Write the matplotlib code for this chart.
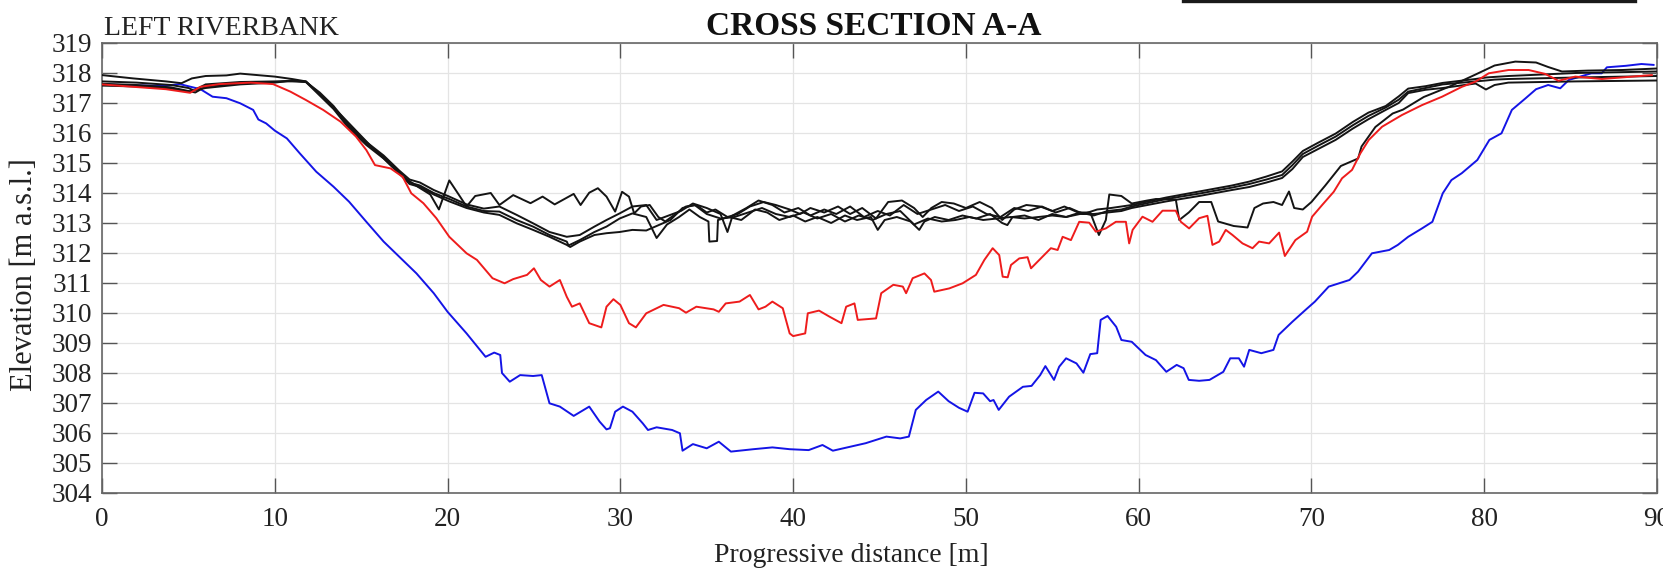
import matplotlib
matplotlib.use('Agg')
import matplotlib.pyplot as plt
from matplotlib.lines import Line2D

# ---------------- data (progressive distance [m], elevation [m a.s.l.]) ----------------
blue_d = [0, 1.8, 3.7, 4.5, 5.7, 6.4, 7.2, 8.0, 8.75, 9.05, 9.5, 10.0, 10.7, 11.45, 12.4, 13.4, 14.3, 15.3, 16.3, 17.2,
          18.2, 19.2, 20.0, 21.1, 22.2, 22.7, 23.05, 23.15, 23.6, 24.2, 24.95, 25.45, 25.9, 26.5, 27.3, 28.2, 28.8, 29.2,
          29.4, 29.7, 30.15, 30.7, 31.3, 31.6, 32.1, 33.0, 33.45, 33.6, 34.2, 35.0, 35.7, 36.4, 37.7, 38.8, 39.8, 40.9,
          41.7, 42.3, 43.3, 44.2, 45.4, 46.2, 46.7, 47.1, 47.7, 48.4, 49.0, 49.6, 50.1, 50.5, 51.0, 51.4, 51.6, 51.9,
          52.5, 53.3, 53.8, 54.3, 54.6, 55.1, 55.4, 55.8, 56.4, 56.8, 57.2, 57.6, 57.8, 58.2, 58.7, 59.0, 59.6, 60.4,
          61.0, 61.6, 62.2, 62.6, 62.9, 63.5, 64.1, 64.9, 65.3, 65.8, 66.1, 66.4, 67.1, 67.8, 68.1, 68.9, 69.65, 70.2,
          71.0, 72.2, 72.7, 73.5, 74.5, 75.0, 75.6, 76.4, 77.0, 77.6, 78.1, 78.7, 79.6, 80.3, 81.0, 81.6, 82.4, 83.0,
          83.7, 84.4, 84.9, 86.2, 86.8, 87.1, 88.2, 89.1, 89.8]
blue_e = [317.62, 317.59, 317.57, 317.63, 317.46, 317.21, 317.16, 316.99, 316.77, 316.45, 316.32, 316.08, 315.82, 315.32,
          314.71, 314.21, 313.71, 313.04, 312.38, 311.88, 311.32, 310.66, 310.04, 309.32, 308.54, 308.68, 308.6, 308.0,
          307.71, 307.93, 307.9, 307.93, 306.99, 306.88, 306.57, 306.88, 306.38, 306.12, 306.16, 306.71, 306.88, 306.71,
          306.32, 306.1, 306.19, 306.1, 305.99, 305.41, 305.63, 305.49, 305.71, 305.38, 305.46, 305.52, 305.46, 305.43,
          305.6, 305.41, 305.54, 305.66, 305.88, 305.82, 305.88, 306.77, 307.1, 307.38, 307.06, 306.84, 306.71, 307.34,
          307.32, 307.06, 307.1, 306.77, 307.21, 307.54, 307.57, 307.93, 308.23, 307.77, 308.21, 308.49, 308.32, 308.01,
          308.63, 308.66, 309.77, 309.9, 309.54, 309.1, 309.04, 308.6, 308.43, 308.04, 308.27, 308.16, 307.77, 307.74,
          307.77, 308.04, 308.49, 308.49, 308.21, 308.77, 308.66, 308.77, 309.27, 309.71, 310.1, 310.38, 310.88, 311.1,
          311.38, 311.99, 312.1, 312.27, 312.54, 312.82, 313.04, 313.99, 314.43, 314.66, 315.1, 315.77, 315.99, 316.77,
          317.16, 317.46, 317.6, 317.49, 317.77, 317.99, 317.99, 318.19, 318.24, 318.3, 318.27]

red_d = [0, 1.8, 3.7, 5.1, 5.7, 6.8, 8.6, 9.9, 10.9, 11.8, 12.8, 13.8, 14.7, 15.3, 15.8, 16.7, 17.4, 17.9, 18.6, 19.35,
         20.1, 21.1, 21.7, 22.6, 23.3, 23.8, 24.6, 25.0, 25.4, 25.9, 26.5, 26.9, 27.2, 27.65, 28.2, 28.9, 29.2, 29.6,
         30.0, 30.5, 30.9, 31.5, 32.1, 32.5, 33.4, 33.8, 34.4, 35.4, 35.7, 36.1, 36.9, 37.5, 38.0, 38.4, 38.8, 39.4,
         39.8, 40.0, 40.7, 40.85, 41.5, 42.1, 42.8, 43.07, 43.55, 43.74, 44.8, 45.1, 45.8, 46.35, 46.54, 46.92, 47.6,
         47.98, 48.17, 49.04, 49.81, 50.58, 51.07, 51.55, 51.93, 52.13, 52.42, 52.61, 53.09, 53.57, 53.77, 54.25, 54.92,
         55.31, 55.6, 56.08, 56.56, 57.14, 57.52, 58.1, 58.68, 59.26, 59.45, 59.65, 60.22, 60.8, 61.38, 62.15, 62.44,
         62.92, 63.5, 63.98, 64.27, 64.66, 65.04, 65.43, 66.01, 66.59, 66.97, 67.55, 68.13, 68.46, 69.07, 69.75, 70.04,
         70.62, 71.29, 71.77, 72.35, 72.83, 73.32, 74.09, 75.24, 76.4, 77.56, 78.71, 79.49, 80.26, 81.41, 82.57, 83.53,
         84.3, 85.27, 86.81, 88.16, 89.7]
red_e = [317.62, 317.54, 317.46, 317.34, 317.54, 317.63, 317.68, 317.63, 317.38, 317.1, 316.77, 316.38, 315.88, 315.43,
         314.93, 314.82, 314.54, 313.99, 313.66, 313.16, 312.54, 311.99, 311.77, 311.16, 310.99, 311.13, 311.27, 311.49,
         311.1, 310.88, 311.1, 310.54, 310.21, 310.32, 309.66, 309.52, 310.21, 310.46, 310.27, 309.66, 309.52, 309.99,
         310.16, 310.27, 310.16, 310.01, 310.21, 310.12, 310.04, 310.32, 310.38, 310.6, 310.12, 310.21, 310.38, 310.16,
         309.32, 309.23, 309.32, 309.99, 310.08, 309.88, 309.66, 310.21, 310.32, 309.77, 309.82, 310.66, 310.94, 310.88,
         310.66, 311.16, 311.32, 311.1, 310.71, 310.82, 310.99, 311.27, 311.77, 312.16, 311.93, 311.21, 311.19, 311.6,
         311.82, 311.86, 311.49, 311.77, 312.16, 312.1, 312.54, 312.43, 313.04, 313.01, 312.71, 312.82, 313.04, 313.04,
         312.32, 312.77, 313.21, 313.04, 313.41, 313.41, 313.04, 312.82, 313.16, 313.24, 312.27, 312.38, 312.77, 312.6,
         312.32, 312.16, 312.38, 312.32, 312.68, 311.9, 312.43, 312.71, 313.21, 313.6, 314.04, 314.49, 314.77, 315.32,
         315.77, 316.21, 316.6, 316.93, 317.21, 317.54, 317.71, 317.99, 318.1, 318.1, 317.97, 317.74, 317.88, 317.8,
         317.86, 317.93]

black1_d = [0, 1.8, 3.7, 4.6, 5.2, 6.0, 7.2, 8.0, 9.0, 10.0, 11.0, 11.8, 12.6, 13.5, 14.5, 15.5, 16.5, 17.4, 18.3, 19.0,
            19.5, 20.1, 20.7, 21.1, 21.6, 22.5, 23.0, 23.8, 24.8, 25.5, 26.2, 27.3, 27.7, 28.2, 28.7, 29.2, 29.7, 30.1,
            30.5, 30.8, 31.2, 31.7, 32.2, 32.6, 33.2, 33.8, 34.4, 35.0, 35.5, 36.2, 36.8, 37.5, 38.3, 39.0, 39.8, 40.4,
            41.0, 41.8, 42.6, 43.3, 44.0, 44.8, 45.5, 46.3, 47.0, 47.5, 48.0, 48.6, 49.3, 50.0, 50.8, 51.5, 52.1, 52.8,
            53.5, 54.3, 55.0, 55.7, 56.5, 57.2, 57.7, 58.1, 58.3, 59.0, 59.6, 60.5, 61.0, 62.15, 62.35, 62.9, 63.5, 64.2,
            64.6, 65.5, 66.3, 66.7, 67.2, 67.8, 68.3, 68.7, 69.0, 69.5, 70.0, 70.8, 71.7, 72.7, 72.9, 73.7, 74.7, 75.3,
            76.5, 78.0, 79.5, 80.6, 81.8, 83.0, 83.7, 84.5, 86.0, 88.0, 90.0]
black1_e = [317.93, 317.82, 317.72, 317.66, 317.82, 317.9, 317.92, 317.98, 317.93, 317.88, 317.8, 317.72, 317.3, 316.8,
            316.2, 315.6, 315.05, 314.55, 314.2, 313.95, 313.45, 314.42, 313.9, 313.55, 313.9, 314.0, 313.6, 313.93,
            313.66, 313.88, 313.62, 313.97, 313.6, 314.01, 314.16, 313.88, 313.38, 314.04, 313.88, 313.32, 313.55, 313.6,
            313.2, 313.05, 313.3, 313.55, 313.6, 313.35, 313.45, 313.2, 313.3, 313.55, 313.7, 313.6, 313.45, 313.3, 313.5,
            313.35, 313.55, 313.3, 313.5, 313.15, 313.7, 313.75, 313.5, 313.2, 313.5, 313.7, 313.65, 313.5, 313.7, 313.5,
            313.1, 313.45, 313.6, 313.55, 313.4, 313.55, 313.35, 313.35, 312.6, 313.1, 313.95, 313.9, 313.65, 313.75,
            313.8, 313.78, 313.1, 313.35, 313.7, 313.7, 313.05, 312.9, 312.85, 313.5, 313.65, 313.7, 313.6, 314.05, 313.5,
            313.45, 313.7, 314.25, 314.9, 315.15, 315.55, 316.2, 316.65, 316.78, 317.2, 317.55, 317.95, 318.25, 318.38,
            318.35, 318.2, 318.05, 318.08, 318.1, 318.15]

black2_d = [0, 2, 4, 5, 5.3, 6, 8, 10, 11, 11.8, 12.6, 13.4, 14.3, 15.3, 16.3, 17.2, 17.8, 18.4, 19.2, 20.1, 21.1, 22.1,
            23.0, 24.0, 24.95, 25.9, 26.9, 27.65, 28.5, 29.2, 29.96, 30.7, 31.5, 32.1, 32.8, 33.5, 34.2, 35.0, 35.8, 36.2,
            36.5, 37.3, 38.0, 38.8, 39.5, 40.3, 41.0, 41.8, 42.5, 43.3, 44.1, 44.9, 45.6, 46.4, 47.2, 48.0, 48.8, 49.6,
            50.4, 51.2, 52.0, 52.8, 53.6, 54.4, 55.2, 56.0, 56.8, 57.6, 58.4, 59.0, 59.6, 61.6, 63.5, 65.4, 66.4, 67.4,
            68.3, 68.9, 69.5, 70.4, 71.4, 72.4, 73.3, 74.3, 75.05, 75.6, 76.6, 77.6, 79.5, 80.1, 80.6, 81.4, 85.3, 90.0]
black2_e = [317.72, 317.68, 317.6, 317.5, 317.42, 317.62, 317.7, 317.72, 317.72, 317.7, 317.35, 316.9, 316.25, 315.7,
            315.25, 314.75, 314.45, 314.35, 314.1, 313.88, 313.62, 313.48, 313.55, 313.27, 312.99, 312.7, 312.54, 312.6,
            312.88, 313.1, 313.32, 313.55, 313.6, 313.1, 313.25, 313.4, 313.65, 313.5, 313.3, 312.7, 313.25, 313.5,
            313.75, 313.6, 313.35, 313.5, 313.25, 313.45, 313.3, 313.55, 313.2, 313.4, 313.25, 313.6, 313.3, 313.45,
            313.6, 313.4, 313.55, 313.3, 313.2, 313.5, 313.4, 313.55, 313.35, 313.5, 313.3, 313.45, 313.5, 313.55,
            313.6, 313.85, 314.05, 314.25, 314.38, 314.55, 314.72, 315.05, 315.4, 315.68, 315.98, 316.37, 316.68, 316.9,
            317.22, 317.48, 317.56, 317.67, 317.8, 317.85, 317.87, 317.9, 318.0, 318.05]

black3_d = [0, 2, 4, 5, 5.4, 6, 8, 10, 11, 11.8, 12.6, 13.4, 14.3, 15.3, 16.3, 17.2, 17.8, 18.4, 19.2, 20.1, 21.1, 22.1,
            23.0, 24.0, 24.95, 25.9, 26.9, 27.0, 27.65, 28.5, 29.2, 29.96, 30.7, 31.5, 32.1, 32.7, 33.4, 34.0, 34.6, 35.1,
            35.15, 35.6, 35.65, 36.3, 37.0, 37.8, 38.5, 39.2, 40.0, 40.7, 41.4, 42.2, 43.0, 43.7, 44.5, 44.9, 45.3, 46.0,
            46.8, 47.3, 47.6, 48.2, 49.0, 49.8, 50.6, 51.4, 52.1, 52.4, 52.7, 53.4, 54.2, 55.0, 55.8, 56.6, 57.4, 58.2,
            59.0, 59.6, 61.6, 63.5, 65.4, 66.4, 67.4, 68.3, 68.9, 69.5, 70.4, 71.4, 72.4, 73.3, 74.3, 75.05, 75.6, 76.6,
            77.6, 79.5, 80.1, 80.6, 81.4, 85.3, 90.0]
black3_e = [317.64, 317.6, 317.52, 317.4, 317.35, 317.55, 317.65, 317.7, 317.75, 317.72, 317.3, 316.85, 316.2, 315.65,
            315.2, 314.7, 314.35, 314.25, 314.0, 313.8, 313.55, 313.4, 313.38, 313.1, 312.88, 312.6, 312.38, 312.25,
            312.43, 312.7, 312.88, 313.15, 313.32, 313.2, 312.5, 312.95, 313.2, 313.45, 313.2, 313.05, 312.38, 312.4,
            313.1, 313.2, 313.1, 313.45, 313.35, 313.1, 313.25, 313.05, 313.2, 313.0, 313.25, 313.1, 313.2, 312.77,
            313.1, 313.2, 313.05, 312.77, 313.05, 313.2, 313.1, 313.25, 313.15, 313.3, 313.0, 312.93, 313.2, 313.25,
            313.1, 313.3, 313.2, 313.35, 313.25, 313.4, 313.45, 313.55, 313.8, 313.98, 314.18, 314.3, 314.45, 314.6,
            314.93, 315.3, 315.58, 315.88, 316.26, 316.57, 316.85, 317.11, 317.38, 317.5, 317.62, 317.72, 317.75, 317.78,
            317.8, 317.85, 317.9]

black4_d = [0, 2, 4, 5, 6, 8, 10, 11, 11.8, 12.6, 13.4, 14.3, 15.3, 16.3, 17.2, 17.8, 18.4, 19.2, 20.1, 21.1, 22.1, 23.0,
            24.0, 24.95, 25.9, 26.9, 27.1, 27.65, 28.5, 29.2, 29.96, 30.7, 31.5, 32.1, 32.9, 33.6, 34.3, 35.0, 35.8, 36.6,
            37.4, 38.2, 39.0, 39.8, 40.6, 41.4, 42.2, 43.0, 43.8, 44.6, 45.4, 46.2, 47.0, 47.8, 48.6, 49.4, 50.2, 51.0,
            51.8, 52.6, 53.4, 54.2, 55.0, 55.8, 56.6, 57.4, 58.2, 59.0, 59.6, 61.6, 63.5, 65.4, 66.4, 67.4, 68.3, 68.9,
            69.5, 70.4, 71.4, 72.4, 73.3, 74.3, 75.05, 75.6, 76.6, 77.6, 79.5, 80.1, 80.6, 81.4, 85.3, 90.0]
black4_e = [317.58, 317.55, 317.48, 317.38, 317.5, 317.62, 317.68, 317.75, 317.7, 317.25, 316.8, 316.15, 315.6, 315.15,
            314.65, 314.3, 314.2, 313.95, 313.72, 313.5, 313.35, 313.27, 312.99, 312.77, 312.54, 312.27, 312.2, 312.38,
            312.6, 312.66, 312.7, 312.77, 312.75, 312.9, 313.1, 313.5, 313.6, 313.3, 313.15, 313.2, 313.35, 313.5, 313.3,
            313.2, 313.35, 313.15, 313.3, 313.05, 313.25, 313.1, 313.3, 313.4, 312.95, 313.15, 313.05, 313.1, 313.2,
            313.1, 313.15, 313.2, 313.15, 313.2, 313.25, 313.2, 313.3, 313.3, 313.35, 313.4, 313.5, 313.72, 313.9, 314.1,
            314.2, 314.35, 314.5, 314.8, 315.2, 315.47, 315.77, 316.15, 316.46, 316.77, 317.0, 317.33, 317.44, 317.5,
            317.65, 317.45, 317.6, 317.68, 317.72, 317.75]

x_ticks = list(range(0, 91, 10))
y_ticks = list(range(304, 320))

# ---------------- figure ----------------
plt.rcParams['font.family'] = ['Liberation Serif', 'DejaVu Serif']
W, H = 1663, 572
fig = plt.figure(figsize=(W / 100, H / 100), dpi=100)
left, right, top, bottom = 102, 1657, 43, 493
ax = fig.add_axes([left / W, 1 - bottom / H, (right - left) / W, (bottom - top) / H])

lw = 1.4
ax.plot(blue_d, blue_e, color='#1414e6', lw=lw, zorder=3)
for d, e in [(black1_d, black1_e), (black2_d, black2_e), (black3_d, black3_e), (black4_d, black4_e)]:
    ax.plot(d, e, color='#141414', lw=lw, zorder=4)
ax.plot(red_d, red_e, color='#ee1c1c', lw=lw, zorder=5)

ax.set_xlim(0, 90)
ax.set_ylim(304, 319)
ax.set_xticks(x_ticks)
ax.set_yticks(y_ticks)
ax.grid(True, color='#e4e4e4', lw=0.9, zorder=0)
ax.set_axisbelow(True)
ax.tick_params(direction='in', length=11, width=1.0, color='#555555', top=True, right=True,
               labelsize=19.5, labelcolor='#222222', pad=7)
ax.tick_params(axis='x', pad=10)
for s in ax.spines.values():
    s.set_color('#666666')
    s.set_linewidth(1.2)

fig.text(851 / W, 1 - 555 / H, 'Progressive distance [m]', ha='center', va='center',
         fontsize=20, color='#222222')
fig.text(25 / W, 1 - 275 / H, 'Elevation [m a.s.l.]', ha='center', va='center', rotation=90,
         fontsize=22, color='#222222')
fig.text(1041 / W, 1 - 35 / H, 'CROSS SECTION A-A', ha='right', va='baseline', fontsize=24,
         fontweight='bold', color='#111111')
fig.text(104 / W, 1 - 35 / H, 'LEFT RIVERBANK', ha='left', va='baseline', fontsize=20, color='#222222')

# cropped box edge at the top right
fig.add_artist(Line2D([1183 / W, 1635 / W], [1 - 1.2 / H, 1 - 1.2 / H], transform=fig.transFigure,
                      color='#1a1a1a', lw=2.4))

fig.savefig('out.png', dpi=100)
